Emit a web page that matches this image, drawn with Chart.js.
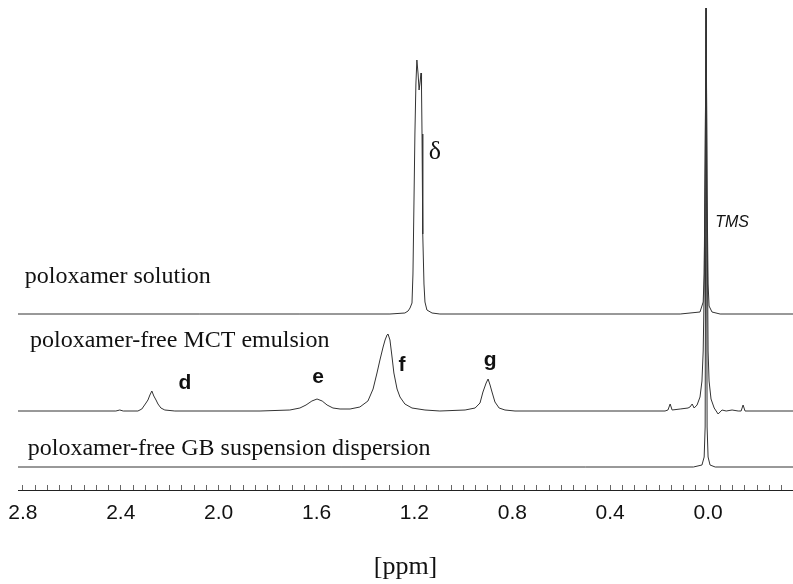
<!DOCTYPE html>
<html>
<head>
<meta charset="utf-8">
<script src="https://cdn.jsdelivr.net/npm/chart.js@4.4.1/dist/chart.umd.min.js"></script>
<style>
  html, body { margin: 0; padding: 0; background: #fff; }
  #wrap { width: 793px; height: 584px; }
</style>
</head>
<body>
<div id="wrap"><canvas id="nmr" width="793" height="584"></canvas></div>
<script>
// chemical shift (ppm) / intensity, one pair of arrays per trace
const solPpm = [2.82, 2.485, 2.077, 1.668, 1.300, 1.239, 1.226, 1.218, 1.210, 1.206, 1.202, 1.198, 1.194, 1.190, 1.185, 1.181, 1.177, 1.173, 1.171, 1.169, 1.167, 1.165, 1.161, 1.157, 1.149, 1.128, 1.096, 0.646, 0.114, 0.033, 0.020, 0.016, 0.012, 0.008, 0.004, 0.000, -0.004, -0.016, -0.049, -0.35];
const solInt = [0, 0, 0, 0, 0, 1, 3, 6, 11, 40, 110, 180, 230, 254, 240, 224, 232, 241, 225, 180, 130, 80, 30, 12, 4, 1, 0, 0, 0, 2, 12, 40, 150, 306, 120, 30, 8, 2, 0, 0];

const mctPpm = [2.82, 2.420, 2.404, 2.390, 2.330, 2.314, 2.297, 2.289, 2.281, 2.273, 2.265, 2.256, 2.248, 2.236, 2.220, 2.179, 1.831, 1.709, 1.668, 1.643, 1.619, 1.598, 1.577, 1.557, 1.533, 1.504, 1.463, 1.423, 1.390, 1.369, 1.353, 1.341, 1.328, 1.320, 1.312, 1.308, 1.300, 1.292, 1.284, 1.271, 1.259, 1.239, 1.210, 1.157, 1.096, 0.993, 0.952, 0.932, 0.920, 0.907, 0.899, 0.891, 0.883, 0.871, 0.854, 0.830, 0.789, 0.176, 0.164, 0.155, 0.147, 0.114, 0.082, 0.074, 0.065, 0.057, 0.045, 0.033, 0.025, 0.020, 0.016, 0.012, 0.008, 0.004, 0.000, -0.004, -0.012, -0.025, -0.041, -0.057, -0.074, -0.098, -0.123, -0.135, -0.143, -0.151, -0.35];
const mctInt = [0, 0, 1, 0, 0, 2, 8, 11, 16, 20, 15, 11, 7, 3, 1, 0, 0, 1, 3, 6, 10, 12, 10, 6, 3, 2, 2, 4, 10, 22, 38, 51, 64, 71, 76, 77, 71, 55, 38, 22, 14, 7, 3, 1, 0, 1, 3, 8, 19, 28, 32, 26, 19, 9, 3, 1, 0, 0, 1, 7, 1, 2, 3, 4, 7, 3, 6, 14, 30, 60, 120, 250, 403, 200, 60, 30, 12, 3, -3, 1, 0, 1, 0, 0, 6, 0, 0];

const gbPpm = [2.82, 1.5, 0.5, 0.060, 0.025, 0.016, 0.012, 0.008, 0.004, 0.000, -0.008, -0.029, -0.35];
const gbInt = [0, 0, 0, 0, 2, 10, 40, 459, 40, 10, 2, 0, 0];

// vertical offset of each trace baseline (stacked display)
const solOffset = 176;
const mctOffset = 79;
const gbOffset = 23;

const traceNames = ['poloxamer solution', 'poloxamer-free MCT emulsion', 'poloxamer-free GB suspension dispersion'];
const traceNamePpm = [2.792, 2.771, 2.780];
const traceNameY = [207, 143, 35];

const peakTags = ['d', 'e', 'f', 'g'];
const peakTagPpm = [2.138, 1.594, 1.251, 0.891];
const peakTagY = [107, 113, 125, 130];

function trace(ppm, inten, offset) {
    return {
        data: ppm.map((p, i) => ({ x: p, y: inten[i] + offset })),
        borderColor: '#333',
        borderWidth: 1,
        pointRadius: 0,
        tension: 0,
        fill: false
    };
}

const textPlugin = {
    id: 'peakText',
    afterDatasetsDraw(chart) {
        const { ctx, scales: { x, y } } = chart;
        ctx.save();
        ctx.fillStyle = '#111';

        ctx.font = '24px "Liberation Serif", "Times New Roman", serif';
        ctx.textAlign = 'left';
        ctx.textBaseline = 'alphabetic';
        traceNames.forEach((t, i) => {
            ctx.fillText(t, x.getPixelForValue(traceNamePpm[i]), y.getPixelForValue(traceNameY[i]));
        });

        ctx.font = 'bold 21px "Liberation Sans", Arial, sans-serif';
        ctx.textAlign = 'center';
        ctx.textBaseline = 'middle';
        peakTags.forEach((t, i) => {
            ctx.fillText(t, x.getPixelForValue(peakTagPpm[i]), y.getPixelForValue(peakTagY[i]));
        });

        ctx.font = '26px "Liberation Serif", "Times New Roman", serif';
        ctx.fillText('\u03b4', x.getPixelForValue(1.116), y.getPixelForValue(338));

        ctx.font = 'italic 16px "Liberation Sans", Arial, sans-serif';
        ctx.fillText('TMS', x.getPixelForValue(-0.098), y.getPixelForValue(267));
        ctx.restore();
    }
};

new Chart(document.getElementById('nmr'), {
    type: 'line',
    data: {
        datasets: [
            trace(solPpm, solInt, solOffset),
            trace(mctPpm, mctInt, mctOffset),
            trace(gbPpm, gbInt, gbOffset)
        ]
    },
    options: {
        responsive: false,
        animation: false,
        layout: { padding: { left: 18, right: 0, top: 0, bottom: 0 } },
        plugins: { legend: { display: false }, tooltip: { enabled: false } },
        scales: {
            x: {
                type: 'linear',
                reverse: true,
                min: -0.347,
                max: 2.82,
                border: { display: true, color: '#222', width: 1 },
                grid: { drawOnChartArea: false, drawTicks: true, tickLength: -5, color: '#666' },
                ticks: {
                    stepSize: 0.05,
                    autoSkip: false,
                    includeBounds: false,
                    maxRotation: 0,
                    padding: 16,
                    color: '#111',
                    font: { family: '"Liberation Sans", Arial, sans-serif', size: 21 },
                    callback: (v) => {
                        const k = v / 0.4;
                        if (Math.abs(k - Math.round(k)) > 1e-6) return '';
                        return (Math.abs(v) < 1e-9 ? 0 : v).toFixed(1);
                    }
                },
                title: {
                    display: true,
                    text: '[ppm]',
                    color: '#111',
                    font: { family: '"Liberation Serif", "Times New Roman", serif', size: 26 },
                    padding: { top: 0, bottom: 1 }
                },
                afterFit: (s) => { s.height = 94; s.paddingLeft = 0; s.paddingRight = 0; }
            },
            y: { display: false, min: 0, max: 490 }
        }
    },
    plugins: [textPlugin]
});
</script>
</body>
</html>
